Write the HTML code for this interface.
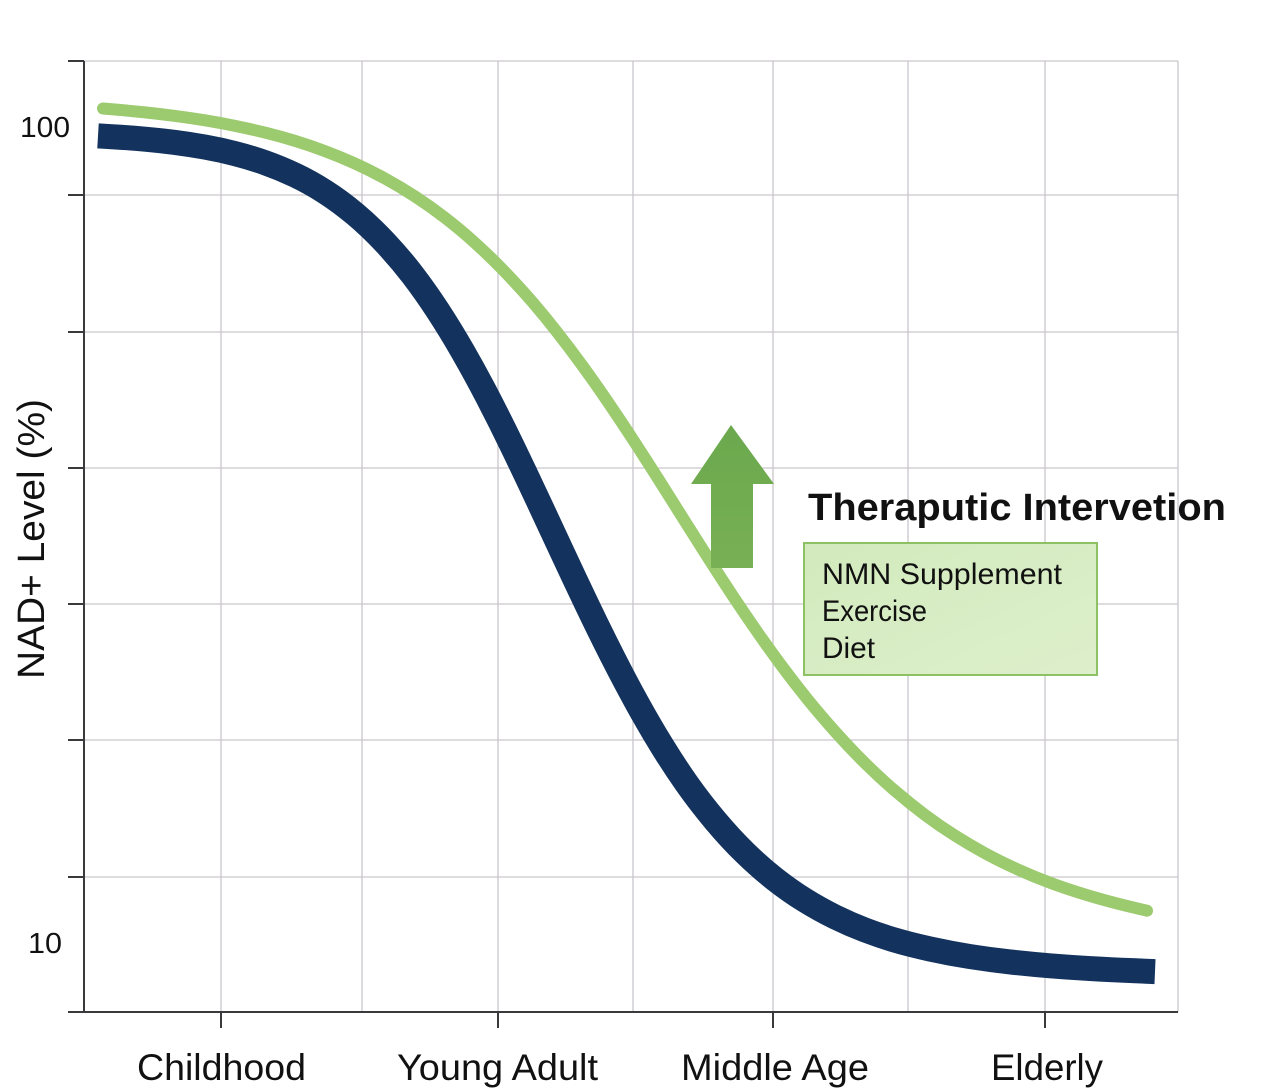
<!DOCTYPE html>
<html>
<head>
<meta charset="utf-8">
<style>
  html, body { margin: 0; padding: 0; background: #ffffff; }
  svg { display: block; }
  text { font-family: "Liberation Sans", "DejaVu Sans", sans-serif; fill: #111; }
</style>
</head>
<body>
<svg width="1280" height="1089" viewBox="0 0 1280 1089" xmlns="http://www.w3.org/2000/svg">
  <defs>
    <linearGradient id="boxg" x1="0" y1="0" x2="1" y2="1">
      <stop offset="0" stop-color="#d2eabd"/>
      <stop offset="1" stop-color="#ddefcb"/>
    </linearGradient>
    <linearGradient id="arrg" x1="0" y1="0" x2="0" y2="1">
      <stop offset="0" stop-color="#6ba84d"/>
      <stop offset="1" stop-color="#78b055"/>
    </linearGradient>
  </defs>

  <!-- grid -->
  <g stroke="#c9c6cb" stroke-width="1.3" fill="none">
    <line x1="221" y1="61" x2="221" y2="1012"/>
    <line x1="362" y1="61" x2="362" y2="1012"/>
    <line x1="498" y1="61" x2="498" y2="1012"/>
    <line x1="633" y1="61" x2="633" y2="1012"/>
    <line x1="773" y1="61" x2="773" y2="1012"/>
    <line x1="908" y1="61" x2="908" y2="1012"/>
    <line x1="1045" y1="61" x2="1045" y2="1012"/>
    <line x1="1178" y1="61" x2="1178" y2="1012"/>
    <line x1="84" y1="61" x2="1178" y2="61"/>
    <line x1="84" y1="195" x2="1178" y2="195"/>
    <line x1="84" y1="332" x2="1178" y2="332"/>
    <line x1="84" y1="468" x2="1178" y2="468"/>
    <line x1="84" y1="604" x2="1178" y2="604"/>
    <line x1="84" y1="740" x2="1178" y2="740"/>
    <line x1="84" y1="877" x2="1178" y2="877"/>
  </g>

  <!-- axes -->
  <g stroke="#3a3a3c" stroke-width="2" fill="none">
    <line x1="84" y1="61" x2="84" y2="1012"/>
    <line x1="68" y1="1012" x2="1178" y2="1012"/>
    <line x1="68" y1="61" x2="84" y2="61"/>
    <line x1="68" y1="195" x2="84" y2="195"/>
    <line x1="68" y1="332" x2="84" y2="332"/>
    <line x1="68" y1="468" x2="84" y2="468"/>
    <line x1="68" y1="604" x2="84" y2="604"/>
    <line x1="68" y1="740" x2="84" y2="740"/>
    <line x1="68" y1="877" x2="84" y2="877"/>
    <line x1="221" y1="1012" x2="221" y2="1028"/>
    <line x1="498" y1="1012" x2="498" y2="1028"/>
    <line x1="773" y1="1012" x2="773" y2="1028"/>
    <line x1="1045" y1="1012" x2="1045" y2="1028"/>
  </g>

  <!-- dark curve -->
  <path d="M98,135.9 L114,136.85 Q130,137.8 145,139.15 Q160,140.5 175,142.45 Q190,144.4 205,147.1 Q220,149.8 235,153.6 Q250,157.4 265,162.7 Q280,168 295,175.1 Q310,182.2 325,191.8 Q340,201.4 355,213.95 Q370,226.5 385,242.5 Q400,258.5 412.5,274.8 Q425,291.1 437.5,310.2 Q450,329.3 462.5,351 Q475,372.7 487.5,396.75 Q500,420.8 512.5,446.65 Q525,472.5 537.5,499.25 Q550,526 562.5,552.85 Q575,579.7 587.5,605.85 Q600,632 612.5,656.65 Q625,681.3 637.5,703.9 Q650,726.5 662.5,746.75 Q675,767 687.5,784.7 Q700,802.4 715,820.3 Q730,838.2 745,852.85 Q760,867.5 775,879.25 Q790,891 805,900.3 Q820,909.6 835,916.95 Q850,924.3 865,930 Q880,935.7 895,940.15 Q910,944.6 930,949 Q950,953.4 970,956.55 Q990,959.7 1010,961.95 Q1030,964.2 1050,965.8 Q1070,967.4 1090,968.55 Q1110,969.7 1132.5,970.65 L1155,971.6"
        fill="none" stroke="#13335e" stroke-width="25" stroke-linecap="butt" stroke-linejoin="round"/>

  <!-- green curve -->
  <path d="M103,108.5 L116.5,109.65 Q130,110.8 145,112.4 Q160,114 175,115.95 Q190,117.9 205,120.35 Q220,122.8 235,125.85 Q250,128.9 265,132.6 Q280,136.3 295,140.9 Q310,145.5 325,151.1 Q340,156.7 355,163.5 Q370,170.3 385,178.5 Q400,186.7 415,196.45 Q430,206.2 445,217.8 Q460,229.4 475,242.9 Q490,256.4 505,272 Q520,287.6 532.5,302.15 Q545,316.7 557.5,332.65 Q570,348.6 582.5,365.8 Q595,383 607.5,401.35 Q620,419.7 632.5,438.85 Q645,458 657.5,477.75 Q670,497.5 682.5,517.4 Q695,537.3 707.5,556.9 Q720,576.5 732.5,595.4 Q745,614.3 757.5,632.25 Q770,650.2 782.5,667 Q795,683.8 807.5,699.25 Q820,714.7 835,731.5 Q850,748.3 865,763.15 Q880,778 895,790.85 Q910,803.7 925,814.9 Q940,826.1 955,835.6 Q970,845.1 985,853.25 Q1000,861.4 1017.5,869.3 Q1035,877.2 1052.5,883.65 Q1070,890.1 1090,896 Q1110,901.9 1128.5,906.3 L1147,910.7"
        fill="none" stroke="#9cca6f" stroke-width="12" stroke-linecap="round" stroke-linejoin="round"/>

  <!-- arrow -->
  <polygon points="731,425 774,484 753,484 753,568 711,568 711,484 691,484" fill="url(#arrg)"/>

  <!-- box -->
  <rect x="804" y="543" width="293" height="132" fill="url(#boxg)" stroke="#8dc264" stroke-width="2"/>

  <!-- texts -->
  <text x="808" y="520" font-size="38" font-weight="bold" textLength="418" lengthAdjust="spacingAndGlyphs">Theraputic Intervetion</text>
  <text x="822" y="584" font-size="30" textLength="240" lengthAdjust="spacingAndGlyphs">NMN Supplement</text>
  <text x="822" y="621" font-size="30" textLength="105" lengthAdjust="spacingAndGlyphs">Exercise</text>
  <text x="822" y="658" font-size="30" textLength="53" lengthAdjust="spacingAndGlyphs">Diet</text>

  <text x="20" y="137" font-size="29" textLength="50" lengthAdjust="spacingAndGlyphs">100</text>
  <text x="28" y="953" font-size="29" textLength="34" lengthAdjust="spacingAndGlyphs">10</text>

  <text transform="translate(44,539) rotate(-90)" font-size="38" text-anchor="middle" textLength="280" lengthAdjust="spacingAndGlyphs">NAD+ Level (%)</text>

  <text x="137" y="1080" font-size="37" textLength="169" lengthAdjust="spacingAndGlyphs">Childhood</text>
  <text x="397" y="1080" font-size="37" textLength="201" lengthAdjust="spacingAndGlyphs">Young Adult</text>
  <text x="681" y="1080" font-size="37" textLength="188" lengthAdjust="spacingAndGlyphs">Middle Age</text>
  <text x="991" y="1080" font-size="37" textLength="112" lengthAdjust="spacingAndGlyphs">Elderly</text>
</svg>
</body>
</html>
